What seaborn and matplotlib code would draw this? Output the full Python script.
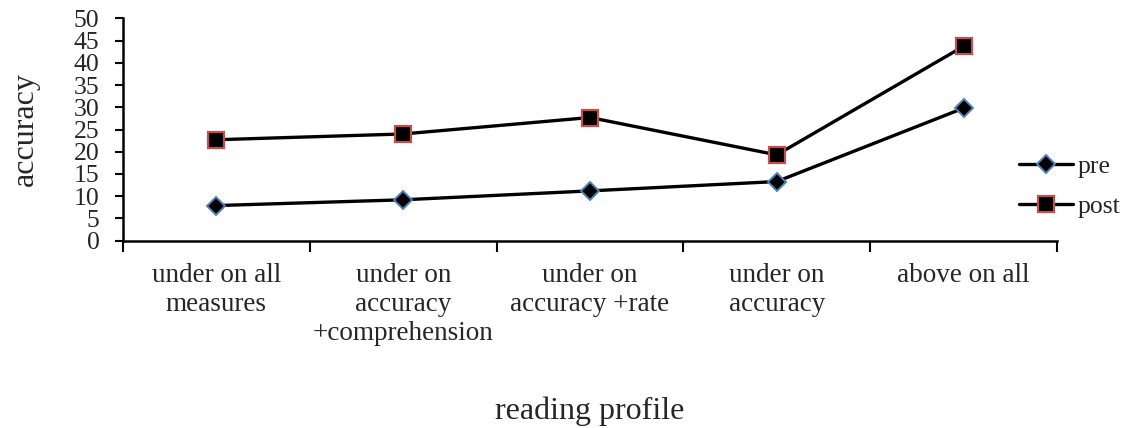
import matplotlib
matplotlib.use("Agg")
import matplotlib.pyplot as plt
import seaborn as sns
import pandas as pd
from matplotlib.lines import Line2D

categories = ["under on all\nmeasures", "under on\naccuracy\n+comprehension",
              "under on\naccuracy +rate", "under on\naccuracy", "above on all"]
pre = [7.9, 9.2, 11.2, 13.3, 29.8]
post = [22.7, 24.0, 27.7, 19.3, 43.7]
yticks = list(range(0, 51, 5))

sns.set_theme(style="white")
plt.rcParams['font.family'] = ['Liberation Serif', 'DejaVu Serif']

fig = plt.figure(figsize=(11.34, 4.28), dpi=100)
ax = fig.add_axes([0.1085, 0.4376, 0.8235, 0.5196])

df = pd.DataFrame({"x": list(range(len(categories))) * 2,
                   "y": pre + post,
                   "series": ["pre"] * len(pre) + ["post"] * len(post)})

blue = "#4F81BD"
red = "#C0504D"
sns.lineplot(data=df[df.series == "pre"], x="x", y="y", ax=ax, color="black",
             linewidth=2.4, marker="D", markersize=9, markerfacecolor="black",
             markeredgecolor=blue, markeredgewidth=1.4, legend=False)
sns.lineplot(data=df[df.series == "post"], x="x", y="y", ax=ax, color="black",
             linewidth=2.4, marker="s", markersize=11, markerfacecolor="black",
             markeredgecolor=red, markeredgewidth=1.6, legend=False)

ax.set_xlim(-0.5, len(categories) - 0.5)
ax.set_ylim(0, 50)
ax.set_yticks(yticks)
ax.set_yticklabels([str(v) for v in yticks], fontsize=18.5)

bounds = [i - 0.5 for i in range(len(categories) + 1)]
ax.set_xticks(bounds)
ax.set_xticklabels([""] * len(bounds))
ax.set_xticks(list(range(len(categories))), minor=True)
ax.set_xticklabels(categories, minor=True, fontsize=19.5, linespacing=1.2)
ax.tick_params(axis="x", which="major", direction="out", length=8, width=1.5,
               color="black", bottom=True)
ax.tick_params(axis="x", which="minor", length=0, pad=16, bottom=True)
ax.tick_params(axis="y", direction="out", length=6, width=1.5, color="black",
               pad=11, left=True)

for s in ["top", "right"]:
    ax.spines[s].set_visible(False)
for s in ["left", "bottom"]:
    ax.spines[s].set_color("black")
    ax.spines[s].set_linewidth(1.8)

ax.set_xlabel("reading profile", fontsize=23, labelpad=37)
ax.set_ylabel("accuracy", fontsize=23, labelpad=24)

handles = [
    Line2D([], [], color="black", linewidth=2.4, marker="D", markersize=9,
           markerfacecolor="black", markeredgecolor=blue, markeredgewidth=1.4),
    Line2D([], [], color="black", linewidth=2.4, marker="s", markersize=11,
           markerfacecolor="black", markeredgecolor=red, markeredgewidth=1.6),
]
fig.legend(handles, ["pre", "post"], loc="center left", bbox_to_anchor=(0.8986, 0.565),
           frameon=False, fontsize=18.5, labelspacing=0.65, handlelength=2.1,
           handletextpad=0.2, borderpad=0, borderaxespad=0)

fig.savefig("out.png", dpi=100)
